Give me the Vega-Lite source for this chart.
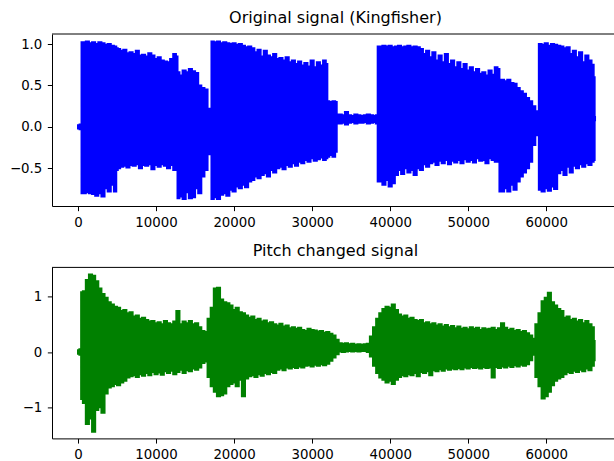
{
  "$schema": "https://vega.github.io/schema/vega-lite/v6.json",
  "padding": {"left": 9, "top": 9, "right": 0, "bottom": 0},
  "background": "white",
  "datasets": {
    "orig": [
      {"x":0,"hi":0.02,"lo":-0.02},{"x":400,"hi":0.03,"lo":-0.03},{"x":500,"hi":1.02,"lo":-0.8},{"x":800,"hi":1.02,"lo":-0.8},{"x":1200,"hi":1.03,"lo":-0.79},{"x":1600,"hi":1.01,"lo":-0.8},{"x":2000,"hi":1.02,"lo":-0.81},{"x":2400,"hi":1.0,"lo":-0.83},{"x":2800,"hi":1.02,"lo":-0.8},{"x":3200,"hi":1.01,"lo":-0.84},{"x":3600,"hi":0.99,"lo":-0.74},{"x":4000,"hi":1.0,"lo":-0.78},{"x":4400,"hi":0.98,"lo":-0.7},{"x":4800,"hi":0.97,"lo":-0.78},{"x":5000,"hi":0.95,"lo":-0.52},{"x":5200,"hi":0.94,"lo":-0.5},{"x":5600,"hi":0.92,"lo":-0.48},{"x":6000,"hi":0.93,"lo":-0.47},{"x":6400,"hi":0.89,"lo":-0.49},{"x":6800,"hi":0.9,"lo":-0.46},{"x":7200,"hi":0.88,"lo":-0.47},{"x":7600,"hi":0.92,"lo":-0.45},{"x":8000,"hi":0.86,"lo":-0.5},{"x":8400,"hi":0.87,"lo":-0.46},{"x":8800,"hi":0.85,"lo":-0.47},{"x":9200,"hi":0.89,"lo":-0.45},{"x":9600,"hi":0.86,"lo":-0.51},{"x":10000,"hi":0.82,"lo":-0.46},{"x":10400,"hi":0.84,"lo":-0.48},{"x":10800,"hi":0.8,"lo":-0.45},{"x":11200,"hi":0.79,"lo":-0.47},{"x":11600,"hi":0.78,"lo":-0.5},{"x":12000,"hi":0.82,"lo":-0.46},{"x":12400,"hi":0.88,"lo":-0.52},{"x":12700,"hi":0.85,"lo":-0.5},{"x":12800,"hi":0.66,"lo":-0.86},{"x":13200,"hi":0.62,"lo":-0.84},{"x":13600,"hi":0.68,"lo":-0.87},{"x":14000,"hi":0.66,"lo":-0.79},{"x":14400,"hi":0.7,"lo":-0.86},{"x":14800,"hi":0.67,"lo":-0.85},{"x":15200,"hi":0.65,"lo":-0.74},{"x":15600,"hi":0.5,"lo":-0.8},{"x":16000,"hi":0.47,"lo":-0.6},{"x":16400,"hi":0.45,"lo":-0.52},{"x":16800,"hi":0.22,"lo":-0.33},{"x":17000,"hi":0.02,"lo":-0.02},{"x":17200,"hi":1.03,"lo":-0.87},{"x":17600,"hi":1.02,"lo":-0.85},{"x":18000,"hi":1.03,"lo":-0.87},{"x":18400,"hi":1.01,"lo":-0.82},{"x":18800,"hi":1.02,"lo":-0.8},{"x":19200,"hi":1.01,"lo":-0.83},{"x":19600,"hi":1.0,"lo":-0.76},{"x":20000,"hi":1.01,"lo":-0.78},{"x":20400,"hi":0.99,"lo":-0.72},{"x":20800,"hi":1.0,"lo":-0.74},{"x":21200,"hi":0.98,"lo":-0.7},{"x":21600,"hi":0.96,"lo":-0.73},{"x":22000,"hi":0.97,"lo":-0.66},{"x":22400,"hi":0.95,"lo":-0.64},{"x":22800,"hi":0.9,"lo":-0.6},{"x":23200,"hi":0.93,"lo":-0.62},{"x":23600,"hi":0.85,"lo":-0.58},{"x":24000,"hi":0.92,"lo":-0.56},{"x":24400,"hi":0.86,"lo":-0.6},{"x":24800,"hi":0.84,"lo":-0.52},{"x":25200,"hi":0.88,"lo":-0.55},{"x":25600,"hi":0.82,"lo":-0.5},{"x":26000,"hi":0.83,"lo":-0.48},{"x":26400,"hi":0.8,"lo":-0.51},{"x":26800,"hi":0.84,"lo":-0.46},{"x":27200,"hi":0.78,"lo":-0.48},{"x":27600,"hi":0.8,"lo":-0.44},{"x":28000,"hi":0.76,"lo":-0.47},{"x":28400,"hi":0.79,"lo":-0.42},{"x":28800,"hi":0.74,"lo":-0.44},{"x":29200,"hi":0.77,"lo":-0.4},{"x":29600,"hi":0.73,"lo":-0.42},{"x":30000,"hi":0.8,"lo":-0.38},{"x":30400,"hi":0.72,"lo":-0.41},{"x":30800,"hi":0.78,"lo":-0.39},{"x":31200,"hi":0.74,"lo":-0.37},{"x":31600,"hi":0.8,"lo":-0.4},{"x":31900,"hi":0.76,"lo":-0.38},{"x":32000,"hi":0.31,"lo":-0.36},{"x":32400,"hi":0.3,"lo":-0.34},{"x":32800,"hi":0.31,"lo":-0.36},{"x":33100,"hi":0.3,"lo":-0.3},{"x":33200,"hi":0.15,"lo":0.04},{"x":33600,"hi":0.15,"lo":0.04},{"x":34000,"hi":0.14,"lo":0.05},{"x":34400,"hi":0.18,"lo":0.03},{"x":34800,"hi":0.14,"lo":0.05},{"x":35200,"hi":0.13,"lo":0.06},{"x":35600,"hi":0.15,"lo":0.04},{"x":36000,"hi":0.14,"lo":0.05},{"x":36400,"hi":0.13,"lo":0.05},{"x":36800,"hi":0.14,"lo":0.06},{"x":37200,"hi":0.15,"lo":0.04},{"x":37600,"hi":0.14,"lo":0.05},{"x":38000,"hi":0.13,"lo":0.06},{"x":38300,"hi":0.14,"lo":0.04},{"x":38500,"hi":0.97,"lo":-0.66},{"x":38800,"hi":0.97,"lo":-0.66},{"x":39200,"hi":0.98,"lo":-0.7},{"x":39600,"hi":0.97,"lo":-0.64},{"x":40000,"hi":0.98,"lo":-0.72},{"x":40400,"hi":0.96,"lo":-0.68},{"x":40800,"hi":0.97,"lo":-0.58},{"x":41200,"hi":0.98,"lo":-0.52},{"x":41600,"hi":0.96,"lo":-0.57},{"x":42000,"hi":0.97,"lo":-0.5},{"x":42400,"hi":0.98,"lo":-0.55},{"x":42800,"hi":0.96,"lo":-0.52},{"x":43200,"hi":0.97,"lo":-0.58},{"x":43600,"hi":0.96,"lo":-0.5},{"x":44000,"hi":0.94,"lo":-0.52},{"x":44400,"hi":0.88,"lo":-0.45},{"x":44800,"hi":0.92,"lo":-0.48},{"x":45200,"hi":0.84,"lo":-0.44},{"x":45600,"hi":0.9,"lo":-0.42},{"x":46000,"hi":0.8,"lo":-0.46},{"x":46400,"hi":0.86,"lo":-0.41},{"x":46800,"hi":0.78,"lo":-0.44},{"x":47200,"hi":0.88,"lo":-0.4},{"x":47600,"hi":0.76,"lo":-0.45},{"x":48000,"hi":0.8,"lo":-0.41},{"x":48400,"hi":0.72,"lo":-0.43},{"x":48800,"hi":0.78,"lo":-0.4},{"x":49200,"hi":0.7,"lo":-0.44},{"x":49600,"hi":0.76,"lo":-0.39},{"x":50000,"hi":0.68,"lo":-0.42},{"x":50400,"hi":0.72,"lo":-0.4},{"x":50800,"hi":0.66,"lo":-0.43},{"x":51200,"hi":0.7,"lo":-0.38},{"x":51600,"hi":0.64,"lo":-0.41},{"x":52000,"hi":0.66,"lo":-0.4},{"x":52400,"hi":0.62,"lo":-0.44},{"x":52800,"hi":0.68,"lo":-0.38},{"x":53200,"hi":0.63,"lo":-0.4},{"x":53600,"hi":0.72,"lo":-0.42},{"x":53900,"hi":0.7,"lo":-0.36},{"x":54100,"hi":0.57,"lo":-0.78},{"x":54400,"hi":0.57,"lo":-0.78},{"x":54800,"hi":0.55,"lo":-0.74},{"x":55200,"hi":0.57,"lo":-0.78},{"x":55600,"hi":0.53,"lo":-0.7},{"x":56000,"hi":0.52,"lo":-0.76},{"x":56400,"hi":0.47,"lo":-0.66},{"x":56800,"hi":0.43,"lo":-0.6},{"x":57200,"hi":0.4,"lo":-0.55},{"x":57600,"hi":0.35,"lo":-0.5},{"x":58000,"hi":0.31,"lo":-0.42},{"x":58400,"hi":0.25,"lo":-0.22},{"x":58800,"hi":0.19,"lo":-0.1},{"x":59000,"hi":0.15,"lo":-0.05},{"x":59100,"hi":1.0,"lo":-0.76},{"x":59200,"hi":1.0,"lo":-0.76},{"x":59600,"hi":0.99,"lo":-0.78},{"x":60000,"hi":1.01,"lo":-0.74},{"x":60400,"hi":0.98,"lo":-0.77},{"x":60800,"hi":1.0,"lo":-0.72},{"x":61200,"hi":0.99,"lo":-0.75},{"x":61600,"hi":0.98,"lo":-0.56},{"x":62000,"hi":0.97,"lo":-0.52},{"x":62400,"hi":0.95,"lo":-0.58},{"x":62800,"hi":0.96,"lo":-0.48},{"x":63200,"hi":0.88,"lo":-0.55},{"x":63600,"hi":0.92,"lo":-0.47},{"x":64000,"hi":0.84,"lo":-0.5},{"x":64400,"hi":0.9,"lo":-0.45},{"x":64800,"hi":0.78,"lo":-0.48},{"x":65200,"hi":0.86,"lo":-0.44},{"x":65600,"hi":0.8,"lo":-0.46},{"x":66000,"hi":0.75,"lo":-0.42},{"x":66150,"hi":0.6,"lo":-0.4},{"x":66250,"hi":0.12,"lo":0.08}
    ],
    "pitch": [
      {"x":0,"hi":0.03,"lo":-0.03},{"x":350,"hi":0.05,"lo":-0.05},{"x":450,"hi":1.08,"lo":-0.85},{"x":800,"hi":1.1,"lo":-0.92},{"x":1200,"hi":1.3,"lo":-1.3},{"x":1600,"hi":1.4,"lo":-1.2},{"x":2000,"hi":1.38,"lo":-1.44},{"x":2400,"hi":1.28,"lo":-1.05},{"x":2800,"hi":1.15,"lo":-1.0},{"x":3200,"hi":1.05,"lo":-1.1},{"x":3600,"hi":0.98,"lo":-0.75},{"x":4000,"hi":0.9,"lo":-0.64},{"x":4400,"hi":0.86,"lo":-0.62},{"x":4800,"hi":0.82,"lo":-0.58},{"x":5200,"hi":0.8,"lo":-0.6},{"x":5600,"hi":0.74,"lo":-0.55},{"x":6000,"hi":0.76,"lo":-0.52},{"x":6400,"hi":0.7,"lo":-0.46},{"x":6800,"hi":0.72,"lo":-0.44},{"x":7200,"hi":0.64,"lo":-0.42},{"x":7600,"hi":0.66,"lo":-0.45},{"x":8000,"hi":0.6,"lo":-0.4},{"x":8400,"hi":0.62,"lo":-0.43},{"x":8800,"hi":0.58,"lo":-0.38},{"x":9200,"hi":0.55,"lo":-0.42},{"x":9600,"hi":0.56,"lo":-0.36},{"x":10000,"hi":0.52,"lo":-0.4},{"x":10400,"hi":0.54,"lo":-0.37},{"x":10800,"hi":0.5,"lo":-0.41},{"x":11200,"hi":0.56,"lo":-0.35},{"x":11600,"hi":0.52,"lo":-0.38},{"x":12000,"hi":0.5,"lo":-0.34},{"x":12400,"hi":0.55,"lo":-0.4},{"x":12800,"hi":0.74,"lo":-0.36},{"x":13200,"hi":0.5,"lo":-0.32},{"x":13600,"hi":0.55,"lo":-0.38},{"x":14000,"hi":0.52,"lo":-0.33},{"x":14400,"hi":0.56,"lo":-0.35},{"x":14800,"hi":0.5,"lo":-0.3},{"x":15200,"hi":0.52,"lo":-0.32},{"x":15600,"hi":0.45,"lo":-0.28},{"x":16000,"hi":0.38,"lo":-0.2},{"x":16400,"hi":0.36,"lo":-0.17},{"x":16800,"hi":0.6,"lo":-0.45},{"x":17200,"hi":0.8,"lo":-0.62},{"x":17600,"hi":1.15,"lo":-0.72},{"x":18000,"hi":1.16,"lo":-0.8},{"x":18400,"hi":0.95,"lo":-0.78},{"x":18800,"hi":0.9,"lo":-0.75},{"x":19200,"hi":0.88,"lo":-0.62},{"x":19600,"hi":0.84,"lo":-0.58},{"x":20000,"hi":0.76,"lo":-0.55},{"x":20400,"hi":0.8,"lo":-0.62},{"x":20800,"hi":0.72,"lo":-0.5},{"x":21200,"hi":0.7,"lo":-0.8},{"x":21600,"hi":0.66,"lo":-0.48},{"x":22000,"hi":0.62,"lo":-0.44},{"x":22400,"hi":0.64,"lo":-0.42},{"x":22800,"hi":0.58,"lo":-0.45},{"x":23200,"hi":0.6,"lo":-0.4},{"x":23600,"hi":0.55,"lo":-0.43},{"x":24000,"hi":0.57,"lo":-0.38},{"x":24400,"hi":0.52,"lo":-0.4},{"x":24800,"hi":0.54,"lo":-0.36},{"x":25200,"hi":0.5,"lo":-0.38},{"x":25600,"hi":0.48,"lo":-0.32},{"x":26000,"hi":0.51,"lo":-0.3},{"x":26400,"hi":0.46,"lo":-0.33},{"x":26800,"hi":0.48,"lo":-0.28},{"x":27200,"hi":0.43,"lo":-0.3},{"x":27600,"hi":0.45,"lo":-0.27},{"x":28000,"hi":0.42,"lo":-0.29},{"x":28400,"hi":0.44,"lo":-0.26},{"x":28800,"hi":0.4,"lo":-0.28},{"x":29200,"hi":0.38,"lo":-0.25},{"x":29600,"hi":0.42,"lo":-0.24},{"x":30000,"hi":0.4,"lo":-0.26},{"x":30400,"hi":0.39,"lo":-0.23},{"x":30800,"hi":0.37,"lo":-0.25},{"x":31200,"hi":0.38,"lo":-0.22},{"x":31600,"hi":0.35,"lo":-0.24},{"x":32000,"hi":0.36,"lo":-0.21},{"x":32400,"hi":0.33,"lo":-0.16},{"x":32800,"hi":0.3,"lo":-0.1},{"x":33200,"hi":0.22,"lo":-0.04},{"x":33600,"hi":0.16,"lo":0.01},{"x":34000,"hi":0.15,"lo":0.0},{"x":34400,"hi":0.16,"lo":0.01},{"x":34800,"hi":0.14,"lo":0.02},{"x":35200,"hi":0.15,"lo":0.01},{"x":35600,"hi":0.13,"lo":0.02},{"x":36000,"hi":0.14,"lo":0.01},{"x":36400,"hi":0.13,"lo":0.02},{"x":36800,"hi":0.14,"lo":0.02},{"x":37200,"hi":0.15,"lo":0.0},{"x":37600,"hi":0.28,"lo":-0.08},{"x":38000,"hi":0.45,"lo":-0.25},{"x":38400,"hi":0.6,"lo":-0.38},{"x":38800,"hi":0.7,"lo":-0.46},{"x":39200,"hi":0.78,"lo":-0.5},{"x":39600,"hi":0.82,"lo":-0.55},{"x":40000,"hi":0.8,"lo":-0.52},{"x":40400,"hi":0.86,"lo":-0.58},{"x":40800,"hi":0.76,"lo":-0.5},{"x":41200,"hi":0.68,"lo":-0.45},{"x":41600,"hi":0.64,"lo":-0.42},{"x":42000,"hi":0.66,"lo":-0.44},{"x":42400,"hi":0.6,"lo":-0.4},{"x":42800,"hi":0.62,"lo":-0.42},{"x":43200,"hi":0.58,"lo":-0.38},{"x":43600,"hi":0.56,"lo":-0.44},{"x":44000,"hi":0.58,"lo":-0.36},{"x":44400,"hi":0.52,"lo":-0.38},{"x":44800,"hi":0.54,"lo":-0.35},{"x":45200,"hi":0.5,"lo":-0.42},{"x":45600,"hi":0.52,"lo":-0.33},{"x":46000,"hi":0.48,"lo":-0.35},{"x":46400,"hi":0.5,"lo":-0.31},{"x":46800,"hi":0.46,"lo":-0.34},{"x":47200,"hi":0.49,"lo":-0.3},{"x":47600,"hi":0.45,"lo":-0.32},{"x":48000,"hi":0.47,"lo":-0.3},{"x":48400,"hi":0.43,"lo":-0.31},{"x":48800,"hi":0.46,"lo":-0.29},{"x":49200,"hi":0.42,"lo":-0.31},{"x":49600,"hi":0.44,"lo":-0.28},{"x":50000,"hi":0.41,"lo":-0.3},{"x":50400,"hi":0.45,"lo":-0.27},{"x":50800,"hi":0.42,"lo":-0.29},{"x":51200,"hi":0.44,"lo":-0.28},{"x":51600,"hi":0.4,"lo":-0.3},{"x":52000,"hi":0.43,"lo":-0.27},{"x":52400,"hi":0.41,"lo":-0.29},{"x":52800,"hi":0.42,"lo":-0.28},{"x":53200,"hi":0.44,"lo":-0.46},{"x":53600,"hi":0.4,"lo":-0.27},{"x":54000,"hi":0.43,"lo":-0.29},{"x":54400,"hi":0.52,"lo":-0.26},{"x":54800,"hi":0.44,"lo":-0.28},{"x":55200,"hi":0.4,"lo":-0.25},{"x":55600,"hi":0.42,"lo":-0.27},{"x":56000,"hi":0.38,"lo":-0.24},{"x":56400,"hi":0.4,"lo":-0.26},{"x":56800,"hi":0.36,"lo":-0.23},{"x":57200,"hi":0.38,"lo":-0.25},{"x":57600,"hi":0.34,"lo":-0.22},{"x":58000,"hi":0.3,"lo":-0.15},{"x":58400,"hi":0.24,"lo":-0.05},{"x":58800,"hi":0.5,"lo":-0.45},{"x":59200,"hi":0.7,"lo":-0.62},{"x":59600,"hi":0.92,"lo":-0.84},{"x":60000,"hi":0.98,"lo":-0.8},{"x":60400,"hi":1.07,"lo":-0.72},{"x":60800,"hi":0.9,"lo":-0.6},{"x":61200,"hi":0.84,"lo":-0.52},{"x":61600,"hi":0.78,"lo":-0.48},{"x":62000,"hi":0.74,"lo":-0.45},{"x":62400,"hi":0.62,"lo":-0.4},{"x":62800,"hi":0.64,"lo":-0.36},{"x":63200,"hi":0.58,"lo":-0.38},{"x":63600,"hi":0.6,"lo":-0.34},{"x":64000,"hi":0.55,"lo":-0.36},{"x":64400,"hi":0.58,"lo":-0.32},{"x":64800,"hi":0.52,"lo":-0.35},{"x":65200,"hi":0.56,"lo":-0.3},{"x":65600,"hi":0.5,"lo":-0.33},{"x":66000,"hi":0.45,"lo":-0.25},{"x":66200,"hi":0.2,"lo":-0.15}
    ]
  },
  "vconcat": [
    {
      "title": {"text": "Original signal (Kingfisher)", "dx": 2},
      "width": 563,
      "height": 172,
      "layer": [
        {
          "data": {"name": "orig"},
          "mark": {"type": "area", "interpolate": "step", "color": "#0000ff", "stroke": "#0000ff", "strokeWidth": 2, "strokeJoin": "miter", "opacity": 1, "fillOpacity": 1, "clip": true},
          "encoding": {
            "x": {"field": "x", "type": "quantitative", "scale": {"domain": [-3333, 68808], "nice": false, "zero": false}, "axis": {"title": null, "values": [0, 10000, 20000, 30000, 40000, 50000, 60000], "format": "d", "labelFlush": false, "labelOverlap": false}},
            "y": {"field": "hi", "type": "quantitative", "scale": {"domain": [-0.955, 1.121], "nice": false, "zero": false}, "axis": {"title": null, "values": [-0.5, 0, 0.5, 1], "format": ".1f", "labelPadding": 5.5}},
            "y2": {"field": "lo"}
          }
        },
        {
          "data": {"values": [{}]},
          "mark": {"type": "rule", "color": "#000000", "strokeWidth": 1},
          "encoding": {"y": {"datum": 1.121}}
        }
      ]
    },
    {
      "title": {"text": "Pitch changed signal", "dx": 2},
      "width": 563,
      "height": 171,
      "layer": [
        {
          "data": {"name": "pitch"},
          "mark": {"type": "area", "interpolate": "step", "color": "#008000", "stroke": "#008000", "strokeWidth": 2, "strokeJoin": "miter", "opacity": 1, "fillOpacity": 1, "clip": true},
          "encoding": {
            "x": {"field": "x", "type": "quantitative", "scale": {"domain": [-3333, 68808], "nice": false, "zero": false}, "axis": {"title": null, "values": [0, 10000, 20000, 30000, 40000, 50000, 60000], "format": "d", "labelFlush": false, "labelOverlap": false}},
            "y": {"field": "hi", "type": "quantitative", "scale": {"domain": [-1.562, 1.53], "nice": false, "zero": false}, "axis": {"title": null, "values": [-1, 0, 1], "format": "d", "labelPadding": 5.5}},
            "y2": {"field": "lo"}
          }
        },
        {
          "data": {"values": [{}]},
          "mark": {"type": "rule", "color": "#000000", "strokeWidth": 1},
          "encoding": {"y": {"datum": 1.53}}
        }
      ]
    }
  ],
  "spacing": 61.4,
  "bounds": "flush",
  "config": {
    "font": "DejaVu Sans",
    "view": {"stroke": null},
    "axis": {
      "labelFont": "DejaVu Sans",
      "labelFontSize": 13.33,
      "labelColor": "#000000",
      "tickColor": "#000000",
      "tickSize": 4.67,
      "tickWidth": 1,
      "domainColor": "#000000",
      "domainWidth": 1,
      "grid": false,
      "labelPadding": 4.67
    },
    "axisY": {"labelBaseline": "middle"},
    "title": {"font": "DejaVu Sans", "fontSize": 16, "fontWeight": "normal", "color": "#000000", "offset": 8, "anchor": "middle", "frame": "group"}
  }
}
